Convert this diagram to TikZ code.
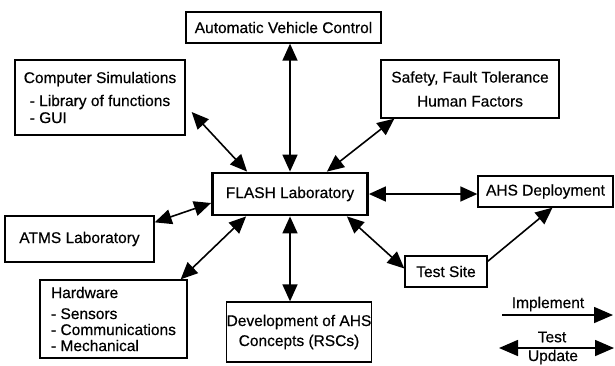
\documentclass[tikz,border=0pt]{standalone}
\usepackage{fontspec}
\setmainfont[FakeBold=0.5]{Liberation Sans}
\usetikzlibrary{arrows.meta,calc}
\begin{document}
\begin{tikzpicture}[x=1pt,y=-1pt,
  txt/.style={font=\fontsize{15.5}{17}\selectfont},
  box/.style={draw, line width=1.3pt, inner sep=0pt, txt},
  conn/.style={line width=1.6pt, {Triangle[length=17pt,width=15pt]}-{Triangle[length=17pt,width=15pt]}},
  oneway/.style={line width=1.6pt, -{Triangle[length=17pt,width=15pt]}},
  legone/.style={line width=1.6pt, -{Triangle[length=19pt,width=16pt]}},
  legtwo/.style={line width=1.6pt, {Triangle[length=19pt,width=16pt]}-{Triangle[length=19pt,width=16pt]}}
]
\useasboundingbox (0,0) rectangle (615,365);

\node[box, minimum width=195pt, minimum height=31pt] (avc) at (283.5,27.5) {Automatic Vehicle Control};
\node[box, minimum width=170pt, minimum height=75pt, align=left] (comp) at (100,97.5)
  {Computer Simulations\\[6pt]\hspace{6pt}- Library of functions\\\hspace{6pt}- GUI};
\node[box, minimum width=178pt, minimum height=58pt, align=center] (safety) at (470,89)
  {Safety, Fault Tolerance\\[7pt]Human Factors};
\node[box, line width=2.8pt, minimum width=155pt, minimum height=42pt] (flash) at (290,194) {FLASH Laboratory};
\node[box, minimum width=135pt, minimum height=31pt] (ahs) at (545.5,191.5) {AHS Deployment};
\node[box, minimum width=149pt, minimum height=46pt] (atms) at (79.5,239) {ATMS Laboratory};
\node[box, minimum width=147pt, minimum height=78pt, align=left, font=\fontsize{15.5}{16}\selectfont] (hw) at (113.5,319)
  {Hardware\\[5pt]- Sensors\\- Communications\\- Mechanical};
\node[box, minimum width=142pt, minimum height=60pt, align=center, font=\fontsize{15.5}{20}\selectfont] (dev) at (299,332)
  {Development of AHS\\Concepts (RSCs)};
\node[box, minimum width=82pt, minimum height=31pt] (test) at (446,271.5) {Test Site};

\draw[conn] (avc.south -| flash.north) -- (flash.north);
\draw[conn] ($(comp.east)+(6,14.5)$) -- ($(flash.north west)+(36,0)$);
\draw[conn] ($(safety.south west)+(14,0)$) -- ($(flash.north east)+(-42,0)$);
\draw[conn] ($(atms.north east)+(0,7)$) -- ($(flash.west)+(0,9)$);
\draw[conn] ($(hw.north east)+(-7,0)$) -- ($(flash.south west)+(35,0)$);
\draw[conn] (flash.south) -- (flash.south |- dev.north);
\draw[conn] ($(flash.south east)+(-22,0)$) -- ($(test.west)+(0,-3)$);
\draw[conn] (flash.east) -- (flash.east -| ahs.west);
\draw[oneway] ($(test.north east)+(0,6)$) -- ($(ahs.south)+(7,0)$);

\coordinate (i1) at (502,315);
\coordinate (i2) at (613,315);
\draw[legone] (i1) -- (i2);
\node[txt] (limpl) at (548,304) {Implement};
\coordinate (t1) at (499,348);
\coordinate (t2) at (614,348);
\draw[legtwo] (t1) -- (t2);
\node[txt] (ltest) at (552,337) {Test};
\node[txt, anchor=base] (lupd) at (553,361) {Update};
\end{tikzpicture}
\end{document}
